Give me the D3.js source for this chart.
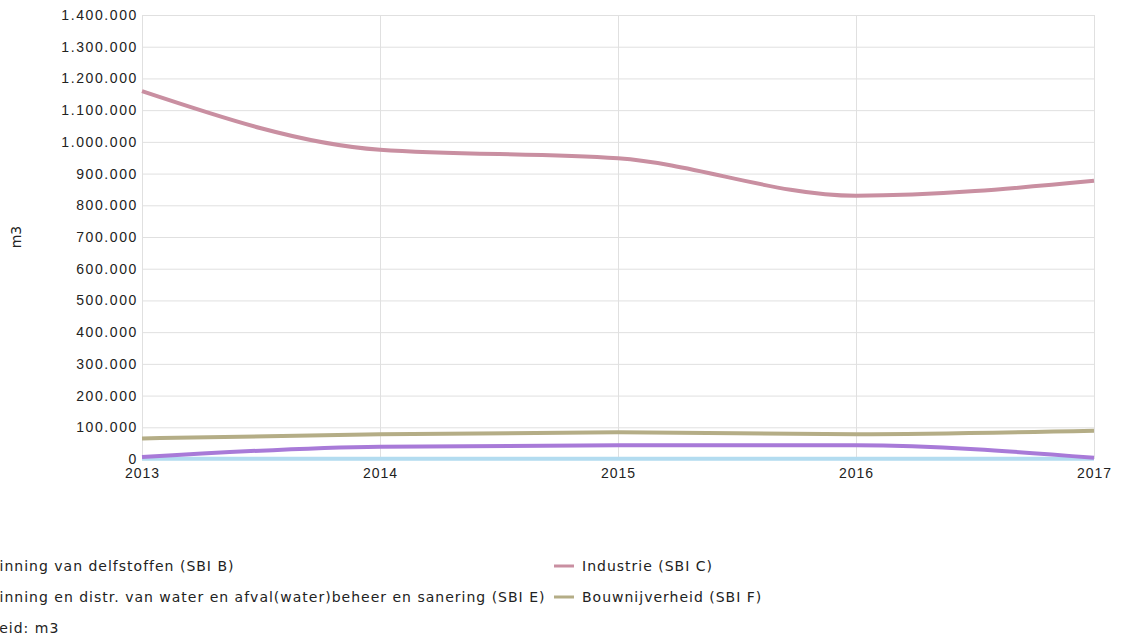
<!DOCTYPE html>
<meta charset="utf-8">
<style>
body { margin: 0; background: #fff; }
svg { font-family: "DejaVu Sans", Verdana, sans-serif; }
.grid line { stroke: #e0e0e0; stroke-width: 1px; }
.grid path { display: none; }
.axis path, .axis line { display: none; }
.axis text { font-size: 14px; fill: #222; }
.axis--y text { letter-spacing: 1.6px; }
.axis--x text { letter-spacing: 1px; }
.line { fill: none; stroke-width: 4px; }
.legend text { font-size: 14px; fill: #222; letter-spacing: 1px; }
</style>
<svg width="1122" height="637"></svg>
<script src="https://cdnjs.cloudflare.com/ajax/libs/d3/7.8.5/d3.min.js"></script>
<script>

var years = [2013, 2014, 2015, 2016, 2017];

var seriesNames = [
  "Winning van delfstoffen (SBI B)",
  "Industrie (SBI C)",
  "Winning en distr. van water en afval(water)beheer en sanering (SBI E)",
  "Bouwnijverheid (SBI F)"
];

var delfstoffen = [500, 800, 800, 800, 600];
var industrie = [1160000, 975000, 948000, 830000, 877000];
var water = [6000, 39000, 43000, 43000, 4000];
var bouw = [65000, 78000, 84000, 78000, 89000];

var colors = ["#b3dcf0", "#c98fa1", "#a87ad8", "#b4ad86"];

var yTicks = d3.range(0, 1400001, 100000);

var svg = d3.select("svg"),
    margin = {top: 15, right: 28, bottom: 178, left: 142},
    width = svg.attr("width") - margin.left - margin.right,
    height = svg.attr("height") - margin.top - margin.bottom,
    g = svg.append("g").attr("transform", "translate(" + margin.left + "," + margin.top + ")");

var x = d3.scaleLinear().domain([2013, 2017]).range([0, width]),
    y = d3.scaleLinear().domain([0, 1400000]).range([height, 0]);

var fmt = d3.formatLocale({decimal: ",", thousands: ".", grouping: [3], currency: ["", ""]}).format(",");

// gridlines
g.append("g")
    .attr("class", "grid")
    .call(d3.axisLeft(y).tickValues(yTicks).tickSize(-width).tickFormat(""));

g.append("g")
    .attr("class", "grid")
    .attr("transform", "translate(0," + height + ")")
    .call(d3.axisBottom(x).tickValues(years).tickSize(-height).tickFormat(""));

g.append("g")
    .attr("class", "axis axis--y")
    .call(d3.axisLeft(y).tickValues(yTicks).tickSize(0).tickPadding(4).tickFormat(fmt));

g.append("g")
    .attr("class", "axis axis--x")
    .attr("transform", "translate(0," + height + ")")
    .call(d3.axisBottom(x).tickValues(years).tickSize(0).tickPadding(9).tickFormat(d3.format("d")));

svg.append("text")
    .attr("transform", "translate(21," + (margin.top + height / 2) + ") rotate(-90)")
    .attr("text-anchor", "middle")
    .style("font-size", "14px")
    .style("fill", "#222")
    .text("m3");

var line = d3.line()
    .curve(d3.curveMonotoneX)
    .x(function(d, i) { return x(years[i]); })
    .y(function(d) { return y(d); });

var data = [delfstoffen, industrie, water, bouw];

g.selectAll(".line")
  .data(data)
  .enter().append("path")
    .attr("class", "line")
    .attr("d", line)
    .style("stroke", function(d, i) { return colors[i]; });

// legend, wider than the page so the left column is cut off
var legend = svg.append("g").attr("class", "legend");
var cols = [-43, 554], rows = [566, 597];

seriesNames.forEach(function(name, i) {
  var lx = cols[i % 2], ly = rows[Math.floor(i / 2)];
  legend.append("line")
      .attr("x1", lx).attr("x2", lx + 20)
      .attr("y1", ly).attr("y2", ly)
      .style("stroke", colors[i])
      .style("stroke-width", 3);
  legend.append("text")
      .attr("x", lx + 28)
      .attr("y", ly)
      .attr("dy", "0.35em")
      .text(name);
});

legend.append("text")
    .attr("x", -40)
    .attr("y", 628)
    .attr("dy", "0.35em")
    .text("Eenheid: m3");

</script>
